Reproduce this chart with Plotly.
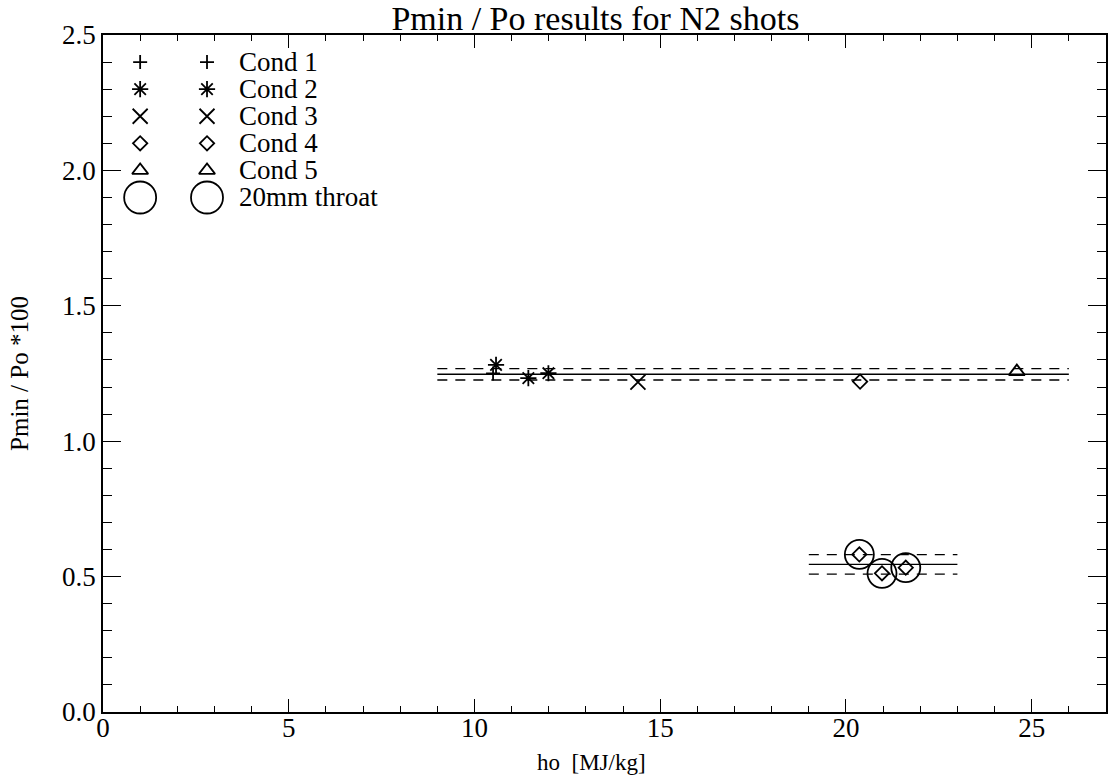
import plotly.graph_objects as go

# Shot data: stagnation enthalpy ho [MJ/kg] against Pmin/Po*100
cond1_ho = [10.50]
cond1_p = [1.250]
cond2_ho = [10.58, 11.45, 11.99]
cond2_p = [1.282, 1.233, 1.251]
cond3_ho = [14.40]
cond3_p = [1.218]
cond4_ho = [20.38, 20.36, 20.97, 21.61]
cond4_p = [1.220, 0.582, 0.512, 0.533]
cond5_ho = [24.60]
cond5_p = [1.257]
throat_ho = [20.36, 20.97, 21.61]
throat_p = [0.582, 0.512, 0.533]

# Mean level and +/- band for each group of shots
upper_span = [9.0, 26.0]
upper_mean = 1.247
upper_dev = 0.021
lower_span = [19.0, 23.0]
lower_mean = 0.545
lower_dev = 0.036

legend_labels = ["Cond 1", "Cond 2", "Cond 3", "Cond 4", "Cond 5", "20mm throat"]

FONT = "Liberation Serif"
BLACK = "black"

symbols = ["cross-thin-open", "asterisk-open", "x-thin-open",
           "diamond-open", "triangle-up-open", "circle-open"]
data_sizes = [10, 13.5, 15, 11, 14, 29]
legend_sizes = [10, 13.5, 15, 11, 14, 32]

fig = go.Figure()


def add_points(xs, ys, symbol, size):
    fig.add_trace(go.Scatter(
        x=xs, y=ys, mode="markers", showlegend=False, hoverinfo="skip",
        marker=dict(symbol=symbol, size=size, color=BLACK,
                    line=dict(color=BLACK, width=1.8)),
    ))


def add_level(span, level, dash):
    fig.add_trace(go.Scatter(
        x=span, y=[level, level], mode="lines", showlegend=False,
        hoverinfo="skip", line=dict(color=BLACK, width=1.4, dash=dash),
    ))


# mean lines with dashed +/- band
for span, mean, dev in [(upper_span, upper_mean, upper_dev),
                        (lower_span, lower_mean, lower_dev)]:
    add_level(span, mean, "solid")
    add_level(span, mean + dev, "10px,8px")
    add_level(span, mean - dev, "10px,8px")

series = [(cond1_ho, cond1_p), (cond2_ho, cond2_p), (cond3_ho, cond3_p),
          (cond4_ho, cond4_p), (cond5_ho, cond5_p), (throat_ho, throat_p)]
for (xs, ys), sym, sz in zip(series, symbols, data_sizes):
    add_points(xs, ys, sym, sz)

# hand-drawn key in the upper-left corner: two symbols then the label
key_cols = [1.0, 2.8]
key_text_x = 3.6
key_rows = [2.4, 2.3, 2.2, 2.1, 2.0, 1.9]
for label, sym, sz, ky in zip(legend_labels, symbols, legend_sizes, key_rows):
    add_points(key_cols, [ky, ky], sym, sz)
    fig.add_annotation(x=key_text_x, y=ky, text=label, showarrow=False,
                       xanchor="left", yanchor="middle",
                       font=dict(family=FONT, size=27, color=BLACK))

axis_common = dict(
    showline=True, linecolor=BLACK, linewidth=1.7, mirror="allticks",
    ticks="inside", tickcolor=BLACK, tickwidth=1.4,
    showgrid=False, zeroline=False,
    tickfont=dict(family=FONT, size=27, color=BLACK),
)

fig.update_xaxes(
    range=[0, 27], tickmode="linear", tick0=0, dtick=5, ticklen=13,
    ticklabelstandoff=-9,
    minor=dict(ticks="inside", dtick=1, ticklen=6, tickcolor=BLACK,
               tickwidth=1.3, showgrid=False),
    **axis_common,
)
fig.update_yaxes(
    range=[0, 2.5], tickmode="linear", tick0=0, dtick=0.5, ticklen=18,
    tickformat=".1f",
    minor=dict(ticks="inside", dtick=0.1, ticklen=9, tickcolor=BLACK,
               tickwidth=1.3, showgrid=False),
    title=dict(text="Pmin / Po *100", font=dict(family=FONT, size=25, color=BLACK),
               standoff=26),
    **axis_common,
)

# x-axis title, set slightly left of the plot centre
fig.add_annotation(x=0.4866, y=-0.074, xref="paper", yref="paper",
                   text="ho  [MJ/kg]", showarrow=False,
                   xanchor="center", yanchor="middle",
                   font=dict(family=FONT, size=23, color=BLACK))

fig.update_layout(
    width=1115, height=776, autosize=False,
    margin=dict(l=103, r=7, t=35, b=64),
    paper_bgcolor="white", plot_bgcolor="white",
    title=dict(text="Pmin / Po results for N2 shots",
               font=dict(family=FONT, size=34, color=BLACK),
               x=0.534, xanchor="center", y=0.977, yanchor="middle",
               xref="container", yref="container"),
)

fig.write_html("out.html")
